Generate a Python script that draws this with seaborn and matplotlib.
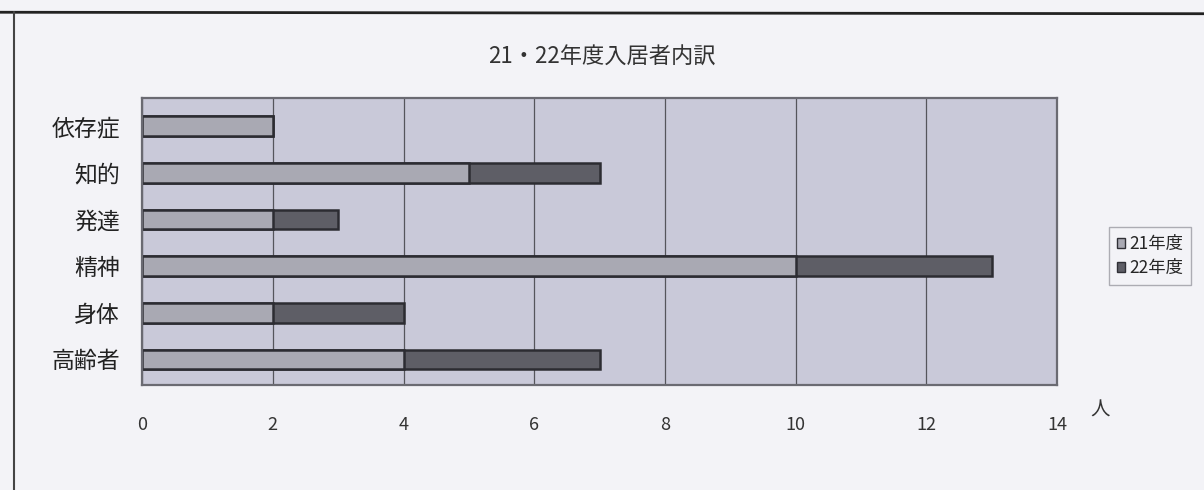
"""21・22年度入居者内訳 - stacked horizontal bars, recreated with seaborn."""
import matplotlib
matplotlib.use("Agg")
import matplotlib.pyplot as plt
import pandas as pd
import seaborn as sns
from matplotlib.patches import Patch

categories = ["依存症", "知的", "発達", "精神", "身体", "高齢者"]
fy21 = [2, 5, 2, 10, 2, 4]
fy22 = [0, 2, 1, 3, 2, 3]
series_names = ["21年度", "22年度"]
x_ticks = [0, 2, 4, 6, 8, 10, 12, 14]

sns.set_style("white")
plt.rcParams["font.family"] = ["Noto Sans CJK JP", "DejaVu Sans"]

df = pd.DataFrame({"cat": categories, "fy21": fy21, "fy22": fy22})
df["total"] = df["fy21"] + df["fy22"]

bg = "#f3f3f7"
fig = plt.figure(figsize=(12.04, 4.9), dpi=100, facecolor=bg)
ax = fig.add_axes([0.118, 0.214, 0.760, 0.586])
ax.set_facecolor("#c9c9d9")

# total first (dark), then 21年度 on top (light) -> stacked look
sns.barplot(data=df, y="cat", x="total", orient="h", color="#5e5e66",
            saturation=1, width=0.42, edgecolor="#2c2c32", linewidth=1.8, ax=ax)
sns.barplot(data=df, y="cat", x="fy21", orient="h", color="#a9a9b3",
            saturation=1, width=0.42, edgecolor="#2c2c32", linewidth=1.8, ax=ax)

ax.set_xlim(0, 14)
ax.set_ylim(5.55, -0.6)
ax.set_xticks(x_ticks)
ax.set_xticklabels([str(t) for t in x_ticks], fontsize=13, color="#333333")
ax.tick_params(axis="x", length=0, pad=22)
ax.tick_params(axis="y", length=0, pad=16, labelsize=16.5, labelcolor="#222222")
ax.set_xlabel("")
ax.set_ylabel("")
ax.xaxis.grid(True, color="#55555c", linewidth=0.9)
ax.set_axisbelow(True)
for s in ax.spines.values():
    s.set_color("#6a6a72")
    s.set_linewidth(1.6)

fig.text(0.5, 0.883, "21・22年度入居者内訳", ha="center", va="center",
         fontsize=16, color="#333333")
fig.text(0.914, 0.163, "人", ha="center", va="center", fontsize=14, color="#333333")

handles = [Patch(facecolor="#a9a9b3", edgecolor="#303036"),
           Patch(facecolor="#5e5e66", edgecolor="#303036")]
fig.legend(handles, series_names, loc="center", bbox_to_anchor=(0.955, 0.478),
           fontsize=12.5, frameon=True, fancybox=False, edgecolor="#9a9aa2",
           facecolor=bg, handlelength=0.5, handleheight=0.5, handletextpad=0.2,
           borderpad=0.45, labelspacing=0.35)

# scanned page frame: top and left rules
fig.add_artist(plt.Line2D([0.0, 1.0], [0.975, 0.972], color="#222222", lw=2.0))
fig.add_artist(plt.Line2D([0.012, 0.012], [0.0, 0.975], color="#444444", lw=1.5))

fig.savefig("out.png", dpi=100, facecolor=bg)
